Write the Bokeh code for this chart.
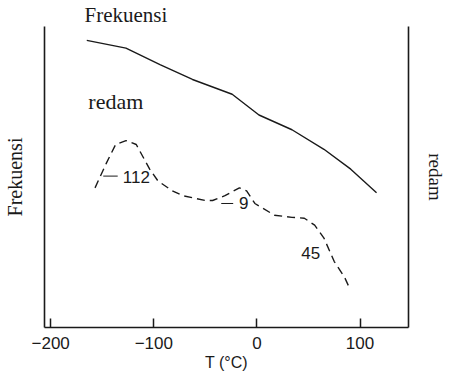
from bokeh.plotting import figure
from bokeh.models import Range1d, LinearAxis, FixedTicker, Label, ColumnDataSource
from bokeh.embed import file_html
from bokeh.resources import INLINE
from bokeh.core.properties import value

# Frequency curve (solid)
freq_T = [-165, -127, -94, -62.5, -24, 2, 34, 65, 91, 116]
freq_v = [95.4, 92.8, 87.3, 82.4, 77.5, 70.6, 65.7, 59.2, 52.6, 44.8]

# Damping curve (dashed)
damp_T = [-157, -146, -137, -127, -117, -104, -96, -82, -72, -50, -43, -31, -17, -10, -2,
          17, 34, 46, 56, 65, 75, 85, 89]
damp_v = [46.4, 54.6, 60.8, 62.1, 60.8, 52.6, 48.7, 45.4, 43.8, 42.2, 42.2, 43.8, 46.4, 45.4, 41.2,
          37.3, 36.6, 36.3, 34.0, 29.7, 21.9, 16.7, 13.7]

# Peak annotations
peak_text = ["112", "9", "45"]
peak_x = [-130, -17.3, 43]
peak_y = [50.0, 41.2, 24.8]
leader_x0 = [-149, -34.6]
leader_x1 = [-135, -23]
leader_y = [50.3, 41.2]

x_ticks = [-200, -100, 0, 100]

FONT_SERIF = "Liberation Serif"
FONT_SANS = "Liberation Sans"
INK = "#1a1a1a"

p = figure(width=448, height=373, output_backend="svg", toolbar_location=None,
           x_range=Range1d(-206, 147), y_range=Range1d(0, 100),
           min_border_left=44, min_border_right=38, min_border_top=0, min_border_bottom=46)
p.outline_line_color = None
p.grid.visible = False
p.background_fill_color = "white"
p.border_fill_color = "white"

p.title.text = "Frekuensi"
p.title.text_font = FONT_SERIF
p.title.text_font_size = "21px"
p.title.text_font_style = "normal"
p.title.text_color = INK
p.title.align = "left"
p.title.offset = 40
p.title.standoff = 0

p.line(freq_T, freq_v, line_color=INK, line_width=1.4)
p.line(damp_T, damp_v, line_color=INK, line_width=1.4, line_dash="8 5")

src = ColumnDataSource(dict(x=peak_x, y=peak_y, t=peak_text))
p.text(x="x", y="y", text="t", source=src, text_font=value(FONT_SANS), text_font_size="17px",
       text_baseline="middle", text_align="left", text_color=INK)
p.segment(x0=leader_x0, y0=leader_y, x1=leader_x1, y1=leader_y, line_color=INK, line_width=1)

p.add_layout(Label(x=-163.5, y=70.9, text="redam", text_font=FONT_SERIF, text_font_size="22px",
                   text_color=INK, text_baseline="bottom"))

# bottom axis
xa = p.xaxis[0]
xa.ticker = FixedTicker(ticks=x_ticks)
xa.minor_tick_line_color = None
xa.major_tick_in = 9
xa.major_tick_out = 0
xa.major_tick_line_width = 1.5
xa.major_tick_line_color = INK
xa.axis_line_width = 1.6
xa.axis_line_color = INK
xa.major_label_text_font = FONT_SANS
xa.major_label_text_font_size = "17px"
xa.major_label_text_color = INK
xa.major_label_standoff = 9
xa.axis_label = "T (°C)"
xa.axis_label_text_font = FONT_SANS
xa.axis_label_text_font_style = "normal"
xa.axis_label_text_font_size = "16px"
xa.axis_label_text_color = INK
xa.axis_label_standoff = 2

# left axis
ya = p.yaxis[0]
ya.ticker = FixedTicker(ticks=[])
ya.major_tick_line_color = None
ya.minor_tick_line_color = None
ya.major_label_text_font_size = "0px"
ya.axis_line_width = 1.6
ya.axis_line_color = INK
ya.axis_label = "Frekuensi"
ya.axis_label_text_font = FONT_SERIF
ya.axis_label_text_font_style = "normal"
ya.axis_label_text_font_size = "20px"
ya.axis_label_text_color = INK
ya.axis_label_standoff = 19

# right axis
ra = LinearAxis(ticker=FixedTicker(ticks=[]))
ra.major_tick_line_color = None
ra.minor_tick_line_color = None
ra.major_label_text_font_size = "0px"
ra.axis_line_width = 1.6
ra.axis_line_color = INK
ra.axis_label = "redam"
ra.axis_label_text_font = FONT_SERIF
ra.axis_label_text_font_style = "normal"
ra.axis_label_text_font_size = "19px"
ra.axis_label_text_color = INK
ra.axis_label_standoff = 16
p.add_layout(ra, "right")

open("out.html", "w").write(file_html(p, INLINE))
